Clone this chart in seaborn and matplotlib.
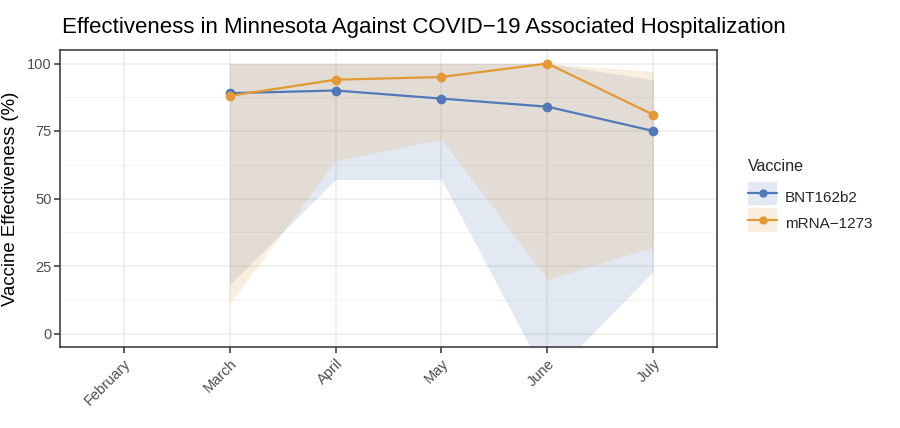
import numpy as np
import pandas as pd
import matplotlib
matplotlib.use("Agg")
import matplotlib.pyplot as plt
import seaborn as sns
from matplotlib.patches import Patch, Rectangle
from matplotlib.lines import Line2D
from matplotlib.legend_handler import HandlerTuple, HandlerPatch

months = ["February", "March", "April", "May", "June", "July"]
data_months = ["March", "April", "May", "June", "July"]
vaccines = ["BNT162b2", "mRNA-1273"]
bnt_ve = [89, 90, 87, 84, 75]
bnt_lo = [18, 57, 57, -17, 23]
bnt_hi = [100, 100, 100, 100, 94]
mrna_ve = [88, 94, 95, 100, 81]
mrna_lo = [11, 64, 72, 20, 32]
mrna_hi = [100, 100, 100, 100, 97]

colors = {"BNT162b2": "#5079BA", "mRNA-1273": "#E39A35"}

rows = []
for v, ve, lo, hi in [("BNT162b2", bnt_ve, bnt_lo, bnt_hi), ("mRNA-1273", mrna_ve, mrna_lo, mrna_hi)]:
    for m, a, b, c in zip(data_months, ve, lo, hi):
        rows.append({"Vaccine": v, "month": m, "pos": months.index(m), "VE": a, "lo": b, "hi": c})
df = pd.DataFrame(rows)

sns.set_theme(style="white")
plt.rcParams["font.family"] = ["Liberation Sans", "DejaVu Sans"]

fig = plt.figure(figsize=(9, 4.28), dpi=100)
ax = fig.add_axes([60/900, 1-347/428, (717-60)/900, (347-50)/428])

alpha = 0.16
for v in vaccines:
    d = df[df.Vaccine == v]
    ax.fill_between(d["pos"], d["lo"], d["hi"], color=colors[v], alpha=alpha, linewidth=0, zorder=1)

sns.lineplot(data=df, x="pos", y="VE", hue="Vaccine", palette=colors, hue_order=vaccines,
             marker="o", markersize=7, markeredgewidth=0, linewidth=1.6, legend=False, ax=ax, zorder=3)

ax.set_xlim(-0.6, len(months) - 1 + 0.6)
ax.set_ylim(-5, 105)
ax.set_xticks(range(len(months)))
ax.set_xticklabels(months, rotation=45, ha="right", va="top", rotation_mode="anchor")
ax.set_yticks([0, 25, 50, 75, 100])
ax.set_yticks([12.5, 37.5, 62.5, 87.5], minor=True)
ax.grid(True, which="major", color="#EBEBEB", linewidth=1.1, zorder=0)
ax.grid(True, which="minor", axis="y", color="#F2F2F2", linewidth=0.6, zorder=0)
ax.set_axisbelow(True)
for s in ax.spines.values():
    s.set_color("#333333")
    s.set_linewidth(1.1)
ax.tick_params(axis="both", which="major", length=4, width=1.1, color="#333333",
               labelcolor="#4D4D4D", labelsize=10.5, pad=2, left=True, bottom=True)
ax.tick_params(axis="x", which="major", pad=3)
ax.tick_params(axis="both", which="minor", length=0)
ax.set_xlabel("")
ax.set_ylabel("Vaccine Effectiveness (%)", fontsize=13.4, color="black", labelpad=6)

fig.text(62/900, 1-28/428, "Effectiveness in Minnesota Against COVID\u221219 Associated Hospitalization",
         fontsize=16, color="black", ha="left", va="center")


def centered_rect(legend, orig_handle, xdescent, ydescent, width, height, fontsize):
    return Rectangle(xy=(-xdescent, -ydescent / 2), width=width, height=height)


handles = []
for v in vaccines:
    p = Patch(facecolor=colors[v], alpha=alpha, edgecolor="none")
    l = Line2D([], [], color=colors[v], marker="o", markersize=6, markeredgewidth=0, linewidth=1.6)
    handles.append((p, l))
labels = ["BNT162b2", "mRNA\u22121273"]
leg = fig.legend(handles, labels,
                 handler_map={tuple: HandlerTuple(ndivide=1, pad=0),
                              Patch: HandlerPatch(patch_func=centered_rect)},
                 title="Vaccine", loc="upper left", bbox_to_anchor=(748/900, 1-159/428),
                 frameon=False, fontsize=11, title_fontsize=11.6, handlelength=1.9, handleheight=2.0,
                 labelspacing=0.2, handletextpad=0.5, borderaxespad=0, borderpad=0)
leg._legend_box.align = "left"
leg._legend_box.sep = 8

fig.savefig("out.png", dpi=100)
